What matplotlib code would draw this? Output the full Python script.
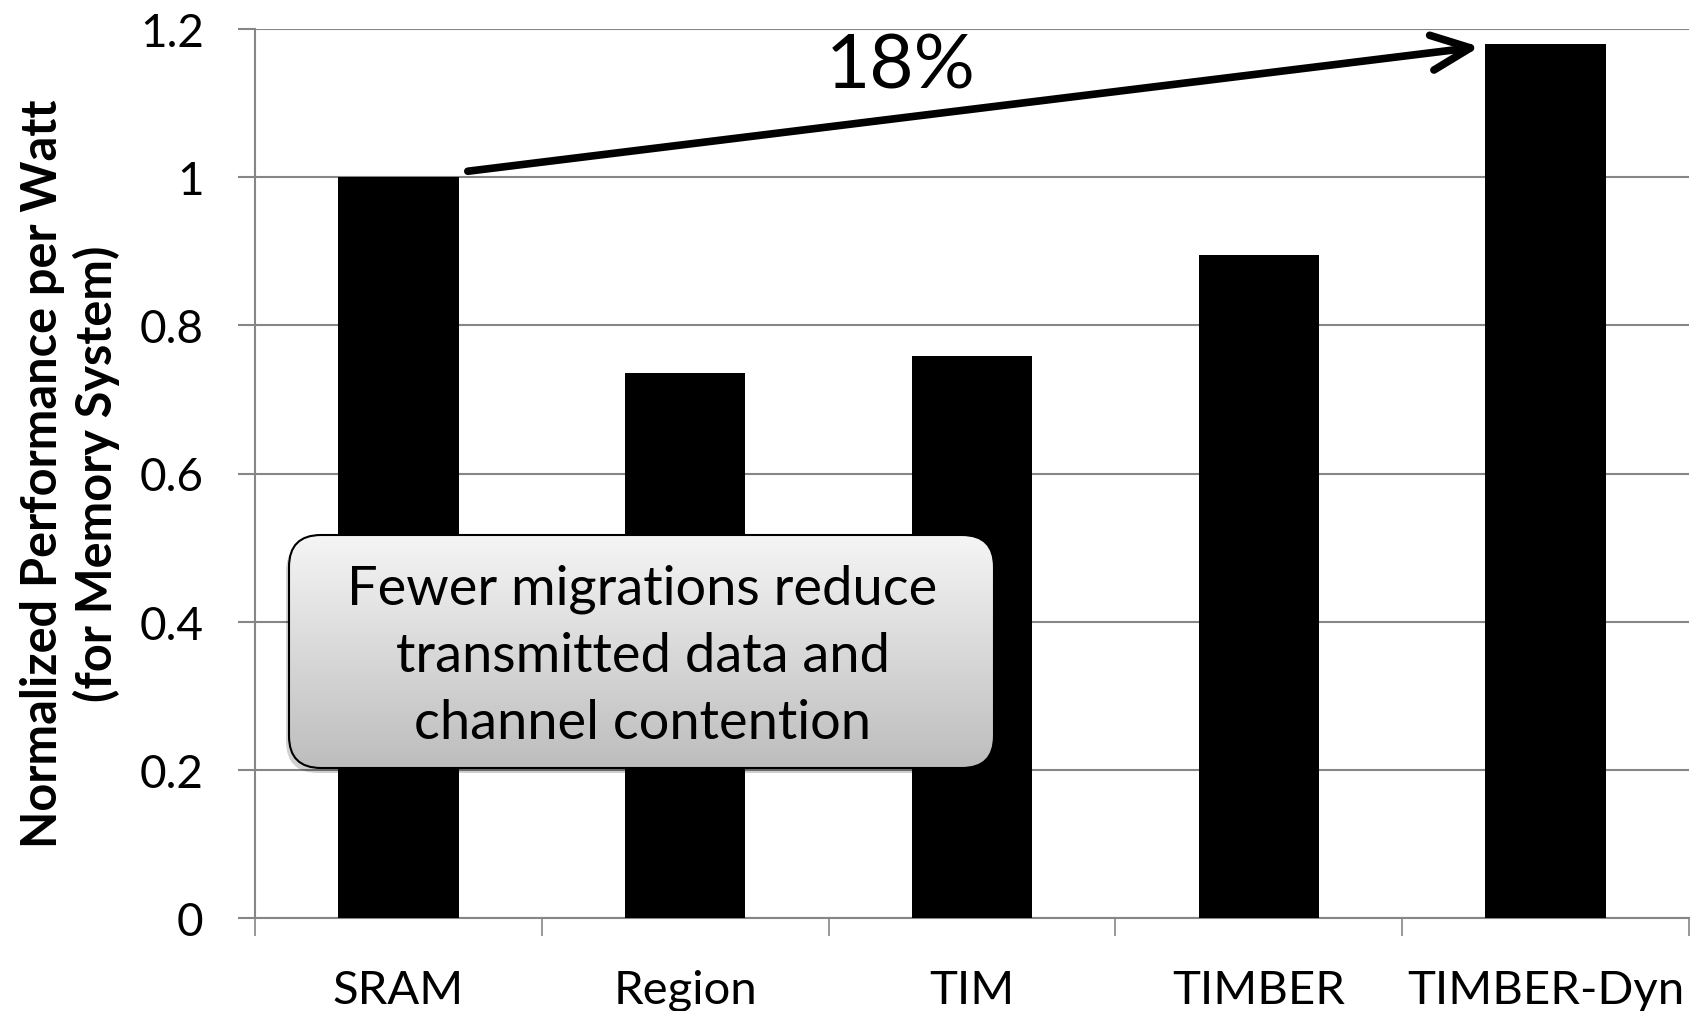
import matplotlib
matplotlib.use("Agg")
import matplotlib.pyplot as plt
import numpy as np
from matplotlib.patches import FancyBboxPatch
from matplotlib.colors import LinearSegmentedColormap

plt.rcParams['font.family'] = ['Lato', 'DejaVu Sans']

# data
categories = ['SRAM', 'Region', 'TIM', 'TIMBER', 'TIMBER-Dyn']
perf_per_watt = [1.0, 0.735, 0.758, 0.895, 1.18]
yticks = [0, 0.2, 0.4, 0.6, 0.8, 1.0, 1.2]
ytick_labels = ['0', '0.2', '0.4', '0.6', '0.8', '1', '1.2']
gain_label = '18%'
note_text = 'Fewer migrations reduce\ntransmitted data and\nchannel contention'

W, H = 1698, 1012
fig = plt.figure(figsize=(W / 100, H / 100), dpi=100)
ax = fig.add_axes([255 / W, 1 - 919 / H, 1434 / W, 889 / H])

grid_c = '#868686'
x = np.arange(len(categories)) + 0.5
ax.bar(x, perf_per_watt, width=0.42, color='black', zorder=3)

ax.set_xlim(0, len(categories))
ax.set_ylim(0, 1.2)
ax.set_yticks(yticks)
ax.set_yticklabels(ytick_labels)
ax.yaxis.grid(True, color=grid_c, lw=1.5, zorder=0)
ax.set_axisbelow(True)

# category boundaries get tick marks, labels sit in the middle
ax.set_xticks(np.arange(len(categories) + 1))
ax.set_xticklabels([])
ax.set_xticks(x, minor=True)
ax.set_xticklabels(categories, minor=True)
ax.tick_params(axis='x', which='major', length=13, width=1.2, color=grid_c)
ax.tick_params(axis='x', which='minor', length=0, pad=37, labelsize=34)
ax.tick_params(axis='y', length=12, width=1.5, color=grid_c, pad=25, labelsize=33)

for s in ['top', 'right']:
    ax.spines[s].set_visible(False)
for s in ['left', 'bottom']:
    ax.spines[s].set_color(grid_c)
    ax.spines[s].set_linewidth(1.5)

fig.text(0.041, 1 - 474 / H,
         'Normalized Performance per Watt\n(for Memory System)',
         rotation=90, ha='center', va='center', fontsize=35,
         fontweight='bold', linespacing=1.2)

# arrow from SRAM to TIMBER-Dyn
ax.annotate('', xy=(4.27, 1.176), xytext=(0.742, 1.008),
            arrowprops=dict(arrowstyle='->,head_length=1.0,head_width=0.45',
                            lw=5.5, color='black', mutation_scale=28,
                            capstyle='round', joinstyle='round',
                            shrinkA=0, shrinkB=0), zorder=5)
ax.text(2.25, 1.15, gain_label, ha='center', va='center', fontsize=55)

# callout box with gradient fill
bx0, by0, bx1, by1 = 289, 536, 994, 769
m = 12
bax = fig.add_axes([(bx0 - m) / W, 1 - (by1 + m) / H,
                    (bx1 - bx0 + 2 * m) / W, (by1 - by0 + 2 * m) / H])
bw, bh = bx1 - bx0, by1 - by0
bax.axis('off')
shadow = FancyBboxPatch((-3, -5), bw, bh, boxstyle='round,pad=0,rounding_size=32',
                        fc='#000000', ec='none', alpha=0.18)
bax.add_patch(shadow)
box = FancyBboxPatch((0, 0), bw, bh, boxstyle='round,pad=0,rounding_size=32',
                     fc='none', ec='black', lw=1.5, zorder=4)
bax.add_patch(box)
grad = np.linspace(0, 1, 256).reshape(-1, 1)
cmap = LinearSegmentedColormap.from_list('g', ['#f5f5f5', '#bdbdbd'])
img = bax.imshow(grad, cmap=cmap, extent=[0, bw, 0, bh], origin='upper',
                 aspect='auto', zorder=3)
img.set_clip_path(box)
bax.set_xlim(-m, bw + m)
bax.set_ylim(-m, bh + m)
bax.text(bw / 2 + 1, bh / 2 - 4, note_text, ha='center', va='center',
         fontsize=39, linespacing=1.45, zorder=5)

fig.savefig('out.png', dpi=100)
